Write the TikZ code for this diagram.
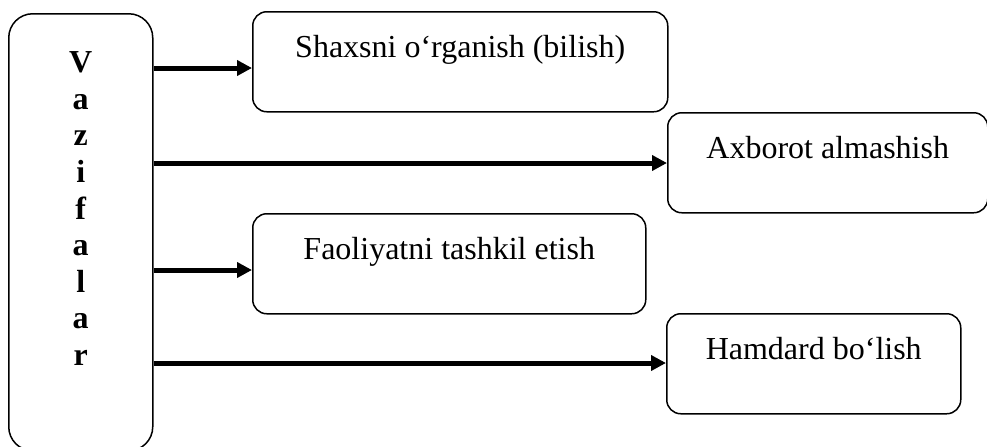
\documentclass[tikz,border=0pt]{standalone}
\usepackage{fontspec}
\setmainfont{Liberation Serif}
\usepackage{tikz}
\usetikzlibrary{positioning,arrows.meta}

\begin{document}
\begin{tikzpicture}[x=0.5pt,y=-0.5pt,->,>={Triangle[length=7.5pt,width=7.5pt]},line width=2.5pt]
  \tikzstyle{task}=[draw,rounded corners=7pt,line width=0.75pt,anchor=north west,inner xsep=0pt,inner ysep=0pt,text height=23pt,text depth=27pt,font=\fontsize{16}{19}\selectfont]
  \tikzstyle{duty}=[draw,rounded corners=12pt,line width=0.75pt,anchor=north west,inner xsep=0pt,inner ysep=0pt,minimum width=72pt,text height=29.5pt,text depth=189pt,font=\bfseries\fontsize{16}{18.3}\selectfont]

  \useasboundingbox (0,0) rectangle (987,446);

  % left box
  \node[duty] (vaz) at (8,13) {\parbox[t]{60pt}{\centering V\\a\\z\\i\\f\\a\\l\\a\\r}};

  % tasks
  \node[task,minimum width=207.5pt] (b1) at (252,11) {Shaxsni o‘rganish (bilish)};
  \node[task,minimum width=160pt] (b2) at (667,112) {Axborot almashish};
  \node[task,minimum width=196.5pt] (b3) at (252,213) {Faoliyatni tashkil etish};
  \node[task,minimum width=147pt] (b4) at (666,313) {Hamdard bo‘lish};

  \draw (vaz.east |- 0,68) -- (b1.west |- 0,68);
  \draw (vaz.east |- 0,163) -- (b2.west |- 0,163);
  \draw (vaz.east |- 0,270) -- (b3.west |- 0,270);
  \draw (vaz.east |- 0,363) -- (b4.west |- 0,363);
\end{tikzpicture}
\end{document}
